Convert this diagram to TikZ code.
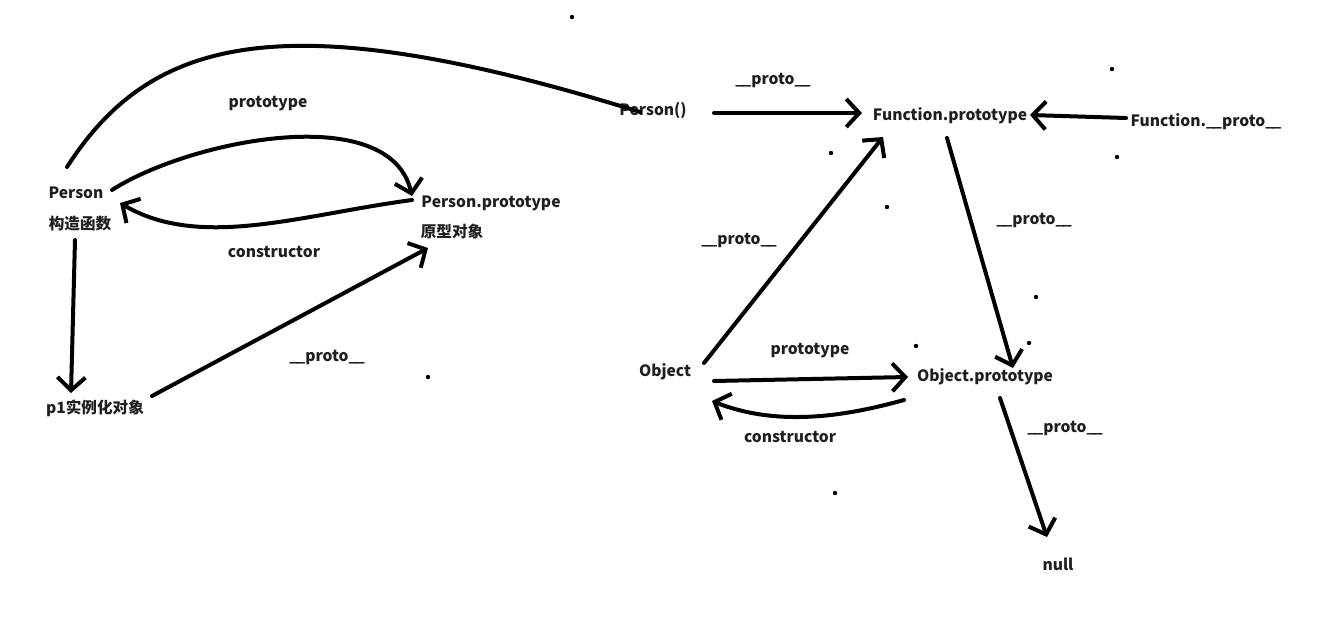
\documentclass[tikz,border=0pt]{standalone}
\usepackage{fontspec}
\setmainfont{Noto Sans CJK SC}
\usetikzlibrary{arrows.meta,calc}
\newcommand\protolink{\_\kern-1.8pt\_proto\_\kern-1.8pt\_}
\begin{document}
\begin{tikzpicture}[x=1pt,y=-1pt,
  lbl/.style={inner sep=0pt,font=\fontsize{15.6}{17}\selectfont\bfseries,text=black!88},
  ink/.style={line width=4pt,line cap=round,line join=round,black},
  arr/.style={ink,-{Straight Barb[length=13pt,width=28pt,line width=4pt]}},
  speck/.style={fill=black}]
\useasboundingbox (0,0) rectangle (1342,634);
\fill[white] (0,0) rectangle (1342,634);

% left group: constructor, prototype object, instance
\node[lbl] (person)   at (76,193)  {Person};
\node[lbl] (gouzao)   at (80,224)  {构造函数};
\node[lbl] (pproto)   at (491,203) {Person.prototype};
\node[lbl] (yuanxing) at (452,232) {原型对象};
\node[lbl] (p1)       at (95,408)  {p1实例化对象};
\node[lbl] (l1) at (268,104) {prototype};
\node[lbl] (l2) at (274,252) {constructor};
\node[lbl] (l3) at (327,357) {\protolink};

% right group: Function / Object chain
\node[lbl] (personfn) at (653,111)  {Person()};
\node[lbl] (fproto)   at (950,116)  {Function.prototype};
\node[lbl] (fnproto)  at (1206,122) {Function.\protolink};
\node[lbl] (obj)      at (665,372)  {Object};
\node[lbl] (oproto)   at (985,377)  {Object.prototype};
\node[lbl] (nullv)    at (1058,564) {null};
\node[lbl] (l4) at (773,80)  {\protolink};
\node[lbl] (l5) at (739,240) {\protolink};
\node[lbl] (l6) at (1034,220) {\protolink};
\node[lbl] (l7) at (810,351) {prototype};
\node[lbl] (l8) at (790,437) {constructor};
\node[lbl] (l9) at (1065,428) {\protolink};

% connectors, left group
\draw[arr] ($(person)+(36,-3)$) .. controls (190,140) and (390,100) .. ($(pproto)+(-79,-7)$);
\draw[arr] ($(pproto)+(-79,-3)$) .. controls (300,215) and (200,250) .. ($(person)+(44,10)$);
\draw[arr] ($(gouzao)+(-5,16)$) -- ($(p1)+(-24,-15)$);
\draw[arr] ($(p1)+(57,-12)$) -- ($(yuanxing)+(-24,16)$);
\draw[ink] ($(person)+(-9,-26)$) .. controls (150,38) and (280,0) .. ($(personfn)+(-13,1)$);

% connectors, right group
\draw[arr] ($(personfn)+(61,2)$) -- ($(fproto)+(-88,-3)$);
\draw[arr] ($(fnproto)+(-80,-4)$) -- ($(fproto)+(80,-1)$);
\draw[arr] ($(fproto)+(-3,22)$) -- ($(oproto)+(28,-9)$);
\draw[arr] ($(obj)+(39,-9)$) -- ($(fproto)+(-67,21)$);
\draw[arr] ($(obj)+(49,9)$) -- ($(oproto)+(-77,0)$);
\draw[arr] ($(oproto)+(-81,23)$) .. controls (850,415) and (780,428) .. ($(obj)+(47,29)$);
\draw[arr] ($(oproto)+(15,21)$) -- ($(nullv)+(-11,-27)$);

% stray specks
\foreach \p in {(572,17),(1112,69),(1117,157),(831,153),(887,207),(1036,297),(1029,343),(428,377),(835,493),(916,346)}
  \fill[speck] \p circle (2.2);
\end{tikzpicture}
\end{document}
